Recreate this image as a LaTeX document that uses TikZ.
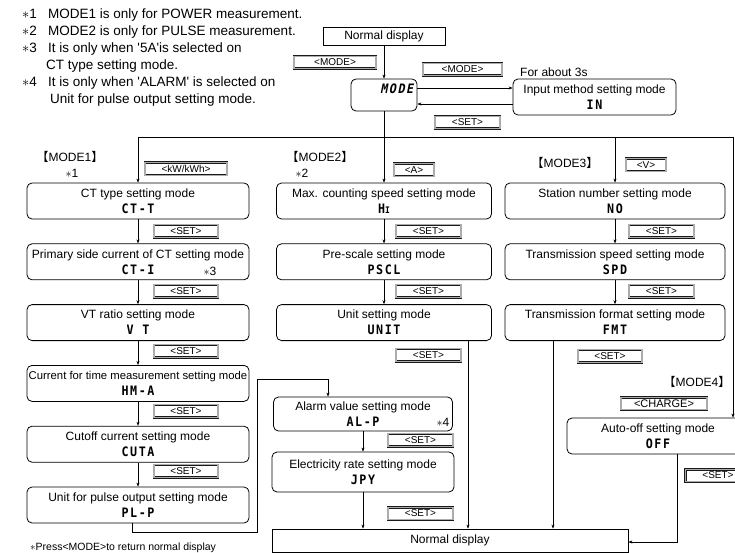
\documentclass[tikz,border=0pt]{standalone}
\usepackage{fontspec}
\setmainfont{Liberation Sans}
\newfontfamily\cjk{Noto Sans CJK SC}
\newfontfamily\segfont{DejaVu Sans Mono}[FakeStretch=0.9, LetterSpace=12]
\newfontfamily\segslant{DejaVu Sans Mono}[FakeStretch=0.9, LetterSpace=12, FakeSlant=0.2]
\usetikzlibrary{positioning,arrows.meta}

\newcommand\lcd[1]{{\segfont\bfseries\fontsize{13}{13}\selectfont #1}}
\newcommand\hd[1]{{\cjk 【}#1{\cjk 】}}

\tikzset{
  mbox/.style={draw, rounded corners=5pt, line width=0.8pt, align=center,
    inner sep=1pt, font=\fontsize{12}{16}\selectfont},
  col1/.style={mbox, minimum width=222pt, minimum height=36pt},
  col2/.style={mbox, minimum width=215pt, minimum height=36pt},
  col3/.style={mbox, minimum width=220pt, minimum height=36pt},
  key/.style={draw=black!90, double=gray!65, double distance=1.3pt,
    line width=0.6pt, minimum height=12.5pt, inner sep=0pt,
    font=\fontsize{10}{12}\selectfont},
  flow/.style={-{Stealth[length=4pt,width=3pt]}, line width=0.5pt},
  note/.style={anchor=west, inner sep=0pt, align=left,
    font=\fontsize{13.5}{17}\selectfont},
  txt/.style={inner sep=0pt, font=\fontsize{12}{14}\selectfont}
}

\begin{document}
\begin{tikzpicture}[x=1pt,y=-1pt]
\useasboundingbox (0,0) rectangle (735,553);

% notes
\node[note] (n1) at (22,15) {\makebox[26pt][l]{$\ast$1}MODE1 is only for POWER measurement.};
\node[note] (n2) at (22,32) {\makebox[26pt][l]{$\ast$2}MODE2 is only for PULSE measurement.};
\node[note] (n3) at (22,57.5) {\makebox[26pt][l]{$\ast$3}It is only when \textquotesingle5A\textquotesingle is selected on\\\hspace{24pt}CT type setting mode.};
\node[note] (n4) at (22,91.5) {\makebox[26pt][l]{$\ast$4}It is only when \textquotesingle ALARM\textquotesingle\ is selected on\\\hspace{28pt}Unit for pulse output setting mode.};

% top part
\node[draw, line width=0.8pt, minimum width=122pt, minimum height=18pt, inner sep=0pt,
  font=\fontsize{12}{14}\selectfont] (normtop) at (384,36) {Normal display};
\node[key, minimum width=82pt] (kmode1) at (335,62.5) {<MODE>};
\node[mbox, minimum width=66pt, minimum height=32pt] (mode) at (384,95) {};
\node[inner sep=0pt, anchor=north east] (modetxt) at ([xshift=-4pt,yshift=-5pt]mode.north east) {{\segslant\bfseries\fontsize{13}{13}\selectfont MODE}};
\node[key, minimum width=79pt] (kmode2) at (462.5,69.5) {<MODE>};
\node[txt, anchor=west] (about) at (520,72) {For about 3s};
\node[mbox, minimum width=163pt, minimum height=36pt] (inm) at (594.5,97) {Input method setting mode\\\lcd{IN}};
\node[key, minimum width=65pt] (kset0) at (467.5,122.5) {<SET>};

\draw[flow] (normtop) -- (mode);
\draw[flow] ([yshift=7pt]mode.east) -- ([yshift=7pt]mode.east -| inm.west);
\draw[flow] ([yshift=-7pt]inm.west) -- ([yshift=-7pt]inm.west -| mode.east);

% MODE1
\node[txt] (h1) at (70,157) {\hd{MODE1}};
\node[txt] (s1) at (72,173) {$\ast$1};
\node[key, minimum width=82pt] (kkw) at (186,169) {<kW/kWh>};
\node[col1] (ctt) at (138,201) {CT type setting mode\\\lcd{CT-T}};
\node[col1, below=24pt of ctt] (cti) {Primary side current of CT setting mode\\\lcd{CT-I}};
\node[txt] (s3) at (210,271) {$\ast$3};
\node[col1, below=24pt of cti] (vt) {VT ratio setting mode\\\lcd{V T}};
\node[col1, below=24pt of vt, font=\fontsize{11.3}{16}\selectfont] (hma) {Current for time measurement setting mode\\\lcd{HM-A}};
\node[col1, below=24pt of hma] (cuta) {Cutoff current setting mode\\\lcd{CUTA}};
\node[col1, below=24pt of cuta] (plp) {Unit for pulse output setting mode\\\lcd{PL-P}};
\foreach \y [count=\i] in {231,291,351,411,471}
  \node[key, minimum width=64pt] (kset1\i) at (186,\y) {<SET>};
\draw[flow] (ctt) -- (cti);
\draw[flow] (cti) -- (vt);
\draw[flow] (vt) -- (hma);
\draw[flow] (hma) -- (cuta);
\draw[flow] (cuta) -- (plp);

% MODE2
\node[txt] (h2) at (320,157) {\hd{MODE2}};
\node[txt] (s2) at (302,173) {$\ast$2};
\node[key, minimum width=40pt] (ka) at (414,170) {<A>};
\node[col2] (hi) at (384,201) {Max. counting speed setting mode\\\lcd{H{\fontsize{9}{9}\selectfont I}}};
\node[col2, below=24pt of hi] (pscl) {Pre-scale setting mode\\\lcd{PSCL}};
\node[col2, below=24pt of pscl] (unit) {Unit setting mode\\\lcd{UNIT}};
\foreach \y [count=\i] in {231,291,355}
  \node[key, minimum width=65pt] (kset2\i) at (428.5,\y) {<SET>};
\draw[flow] (hi) -- (pscl);
\draw[flow] (pscl) -- (unit);

% MODE3
\node[txt] (h3) at (565,163) {\hd{MODE3}};
\node[key, minimum width=40pt] (kv) at (646,165) {<V>};
\node[col3] (no) at (615,201) {Station number setting mode\\\lcd{NO}};
\node[col3, below=24pt of no] (spd) {Transmission speed setting mode\\\lcd{SPD}};
\node[col3, below=24pt of spd] (fmt) {Transmission format setting mode\\\lcd{FMT}};
\foreach \y [count=\i] in {231,291}
  \node[key, minimum width=65pt] (kset3\i) at (661.5,\y) {<SET>};
\node[key, minimum width=64pt] (kset33) at (610,356) {<SET>};
\draw[flow] (no) -- (spd);
\draw[flow] (spd) -- (fmt);

% MODE4
\node[txt] (h4) at (697,382) {\hd{MODE4}};
\node[key, minimum width=86pt, font=\fontsize{11}{13}\selectfont] (kchg) at (664,403.5) {<CHARGE>};
\node[mbox, minimum width=182pt, minimum height=36pt] (off) at (658,436) {Auto-off setting mode\\\lcd{OFF}};
\node[key, minimum width=65pt] (kset4) at (718,475.5) {<SET>};

% alarm branch
\node[mbox, minimum width=179pt, minimum height=34pt] (alp) at (363,414) {Alarm value setting mode\\\lcd{AL-P}};
\node[txt] (s4) at (443,422) {$\ast$4};
\node[key, minimum width=65pt] (kset5) at (420.5,440) {<SET>};
\node[mbox, minimum width=182pt, minimum height=40pt] (jpy) at (363,472) {Electricity rate setting mode\\\lcd{JPY}};
\node[key, minimum width=65pt] (kset6) at (420.5,513.5) {<SET>};
\draw[flow] (alp) -- (jpy);

% return
\node[draw, line width=0.8pt, minimum width=356pt, minimum height=23pt, inner sep=0pt,
  font=\fontsize{12}{14}\selectfont] (normal) at (450,540.5) {Normal display};
\node[inner sep=0pt, anchor=west, font=\fontsize{10.5}{12}\selectfont] (press) at (30,548) {$\ast$Press<MODE>to return normal display};

% bus
\coordinate (busL) at (138,137);
\coordinate (busR) at (733,137);
\draw[line width=0.5pt] (busL) -- (busR);
\draw[flow] (busL) -- (ctt.north);
\draw[flow] (mode) -- (hi);
\draw[flow] (busL -| no.north) -- (no.north);
\draw[flow] (busR) -- (busR |- off.north);

\coordinate (bend) at (257,379);
\draw[flow] ([xshift=-6pt]plp.south) -- ++(0,9) -| (bend) -| ([xshift=-35pt]alp.north);
\coordinate (u1) at ([xshift=84pt]unit.south);
\draw[flow] (u1) -- (u1 |- normal.north);
\draw[flow] (jpy) -- (jpy |- normal.north);
\coordinate (f1) at ([xshift=-62pt]fmt.south);
\draw[flow] (f1) -- (f1 |- normal.north);
\draw[flow] ([xshift=19pt]off.south) |- ([yshift=-1.5pt]normal.east);
\end{tikzpicture}
\end{document}
